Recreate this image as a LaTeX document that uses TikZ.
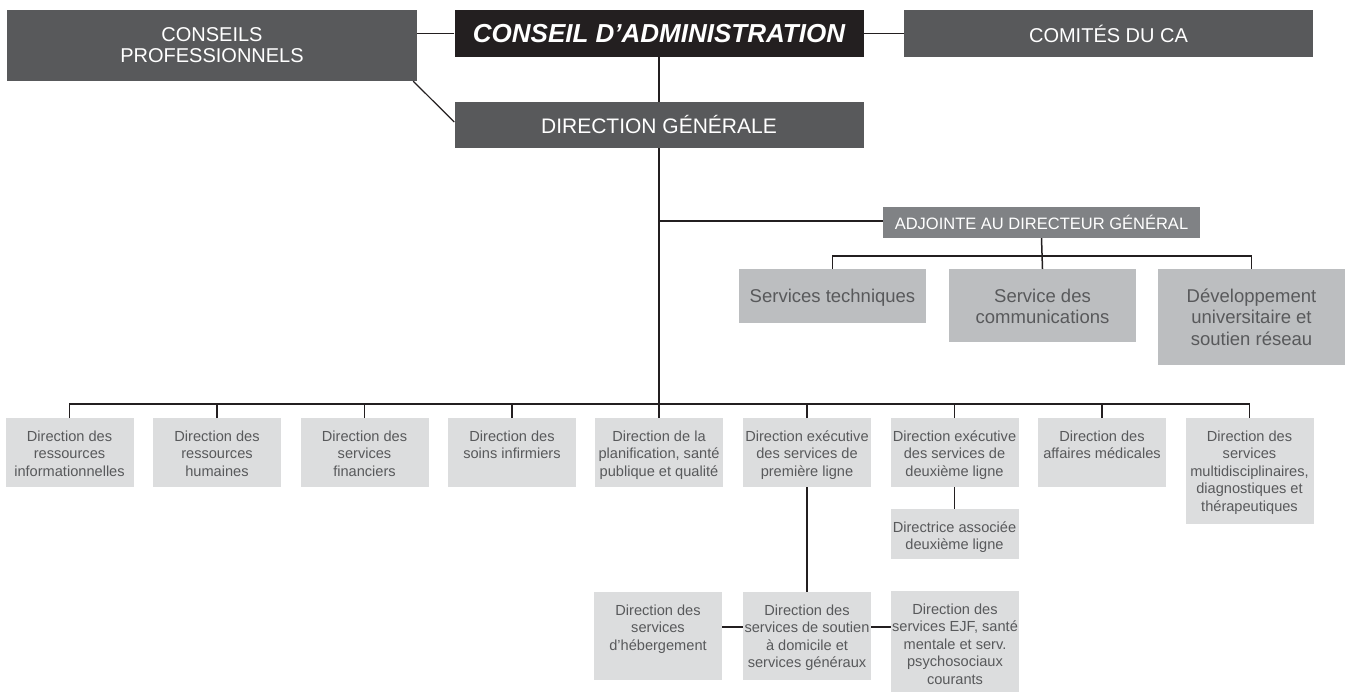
\documentclass[tikz,border=0pt]{standalone}
\usepackage{fontspec}
\setmainfont{Liberation Sans}
\usepackage{tikz}
\usetikzlibrary{positioning}
\definecolor{boxdark}{HTML}{58595B}
\definecolor{boxblack}{HTML}{231F20}
\definecolor{boxmid}{HTML}{808285}
\definecolor{boxserv}{HTML}{BCBEC0}
\definecolor{boxlight}{HTML}{DCDDDE}
\definecolor{textgrey}{HTML}{58595B}
\definecolor{linegrey}{HTML}{231F20}
\tikzset{
  headbox/.style={
    rectangle,
    fill=boxdark,
    text=white,
    minimum width=409pt,
    minimum height=47pt,
    inner sep=0pt,
    align=center,
    font=\fontsize{20}{21}\selectfont},
  cabox/.style={
    headbox,
    fill=boxblack,
    font=\fontsize{26}{26}\selectfont\bfseries\itshape},
  adjbox/.style={
    rectangle,
    fill=boxmid,
    text=white,
    minimum width=317pt,
    minimum height=31pt,
    inner sep=0pt,
    font=\fontsize{16.5}{16.5}\selectfont},
  servbox/.style={
    rectangle,
    anchor=north,
    fill=boxserv,
    text=textgrey,
    inner sep=0pt,
    font=\fontsize{18.5}{21.5}\selectfont,
    execute at begin node={\begin{minipage}[t][#1][t]{187pt}\centering\rule{0pt}{33pt}},
    execute at end node={\end{minipage}}},
  servbox/.default=54pt,
  dirbox/.style={
    rectangle,
    anchor=north,
    fill=boxlight,
    text=textgrey,
    inner sep=0pt,
    font=\fontsize{14.6}{17.5}\selectfont,
    execute at begin node={\begin{minipage}[t][#1][t]{128pt}\centering\rule{0pt}{23pt}},
    execute at end node={\end{minipage}}},
  dirbox/.default=69pt,
  line/.style={draw=linegrey, line width=1.5pt},
}

\begin{document}
\begin{tikzpicture}[x=1pt, y=-1pt]
  \useasboundingbox (0,0) rectangle (1349,692);
  % top level
  \node[headbox, minimum width=410pt, minimum height=71pt] (ConseilsPro) at (212,45.5) {CONSEILS\\PROFESSIONNELS};
  \node[cabox]   (ConseilAdmin) at (659,33.5)    {CONSEIL D’ADMINISTRATION};
  \node[headbox] (Comites)      at (1108.5,33.5) {COMITÉS DU CA};
  \node[headbox, minimum height=46pt, font=\fontsize{21}{21}\selectfont] (DirGenerale) at (659,125) {DIRECTION GÉNÉRALE};
  \node[adjbox]  (Adjointe)     at (1041.5,222.5) {ADJOINTE AU DIRECTEUR GÉNÉRAL};

  % services de l'adjointe
  \node[servbox]      (ServTech) at (832.5,269)  {Services techniques};
  \node[servbox=73pt] (ServComm) at (1042.5,269) {Service des\\communications};
  \node[servbox=96pt] (DevUniv)  at (1251.5,269) {Développement\\universitaire et\\soutien réseau};

  % directions
  \node[dirbox] (DirInfo)     at (69.5,418)   {Direction des\\ressources\\informationnelles};
  \node[dirbox] (DirRH)       at (217,418)    {Direction des\\ressources\\humaines};
  \node[dirbox] (DirFin)      at (364.5,418)  {Direction des\\services\\financiers};
  \node[dirbox] (DirSoins)    at (512,418)    {Direction des\\soins infirmiers};
  \node[dirbox] (DirPlanif)   at (659,418)    {Direction de la\\planification, santé\\publique et qualité};
  \node[dirbox] (DirPremiere) at (807,418)    {Direction exécutive\\des services de\\première ligne};
  \node[dirbox] (DirDeuxieme) at (954.5,418)  {Direction exécutive\\des services de\\deuxième ligne};
  \node[dirbox] (DirMedical)  at (1102,418)   {Direction des\\affaires médicales};
  \node[dirbox=106pt] (DirMulti) at (1249.5,418) {Direction des\\services\\multidisciplinaires,\\diagnostiques et\\thérapeutiques};

  \node[dirbox=50pt]  (DirAssociee) at (954.5,509) {Directrice associée\\deuxième ligne};
  \node[dirbox=88pt]  (DirHeberg)  at (658,592)   {Direction des\\services\\d’hébergement};
  \node[dirbox=88pt]  (DirSoutien) at (807,592)   {Direction des\\services de soutien\\à domicile et\\services généraux};
  \node[dirbox=101pt] (DirEJF)     at (955,591)   {Direction des\\services EJF, santé\\mentale et serv.\\psychosociaux\\courants};

  % liens
  \draw[line] (ConseilAdmin.west) -- (ConseilAdmin.west -| ConseilsPro.east);
  \draw[line] (ConseilAdmin.east) -- (Comites.west);
  \draw[line, line width=1.2pt] ([xshift=-4pt]ConseilsPro.south east) -- ([yshift=3pt]DirGenerale.west);
  \draw[line] (ConseilAdmin.south) -- (DirGenerale.north);
  \draw[line] (DirGenerale.south) -- (DirPlanif.north);
  \draw[line] ([yshift=1.5pt]Adjointe.west) -- ([yshift=1.5pt]Adjointe.west -| DirGenerale.south);
  \draw[line] (Adjointe.south) -- (ServComm.north);
  \draw[line] (ServTech.north) -- ++(0,-13) -| (DevUniv.north);
  \draw[line] (DirInfo.north) -- ++(0,-14) -| (DirMulti.north);
  \draw[line] (DirRH.north) -- ++(0,-14)
              (DirFin.north) -- ++(0,-14)
              (DirSoins.north) -- ++(0,-14)
              (DirPremiere.north) -- ++(0,-14)
              (DirDeuxieme.north) -- ++(0,-14)
              (DirMedical.north) -- ++(0,-14);
  \draw[line] (DirDeuxieme.south) -- (DirAssociee.north);
  \draw[line] (DirPremiere.south) -- (DirSoutien.north);
  \draw[line] ([yshift=9pt]DirHeberg.east) -- ([yshift=9pt]DirHeberg.east -| DirSoutien.west);
  \draw[line] ([yshift=9pt]DirSoutien.east) -- ([yshift=9pt]DirSoutien.east -| DirEJF.west);
\end{tikzpicture}
\end{document}
